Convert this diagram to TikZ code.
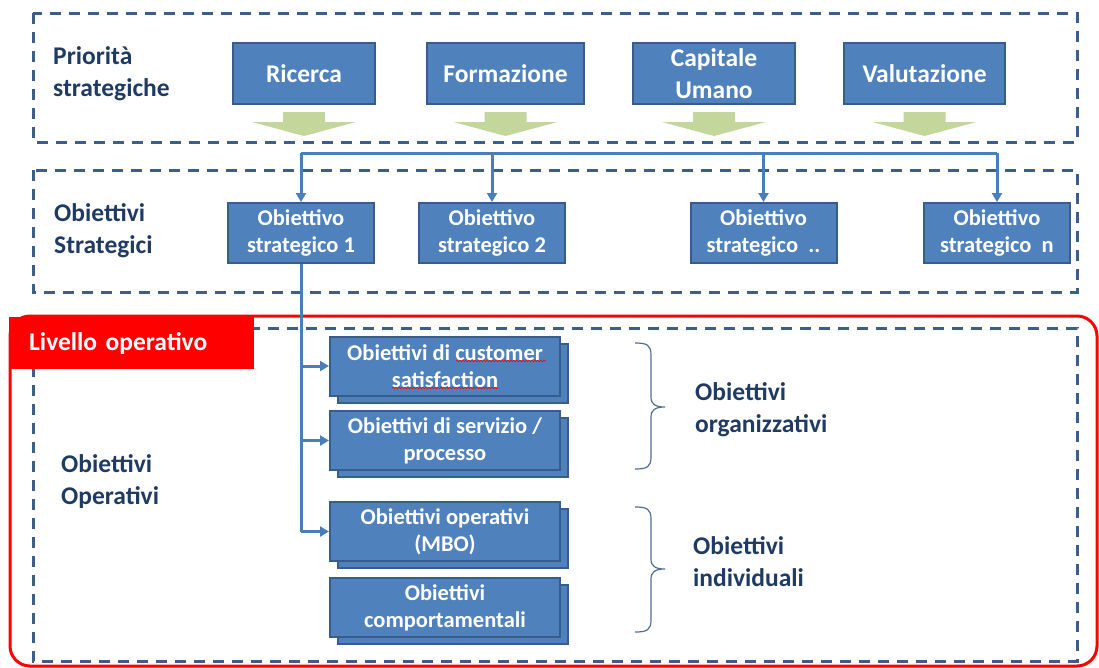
\documentclass[tikz,border=0pt]{standalone}
\usepackage{fontspec}
\setmainfont{Carlito}
\usetikzlibrary{arrows.meta, shadows, decorations.pathmorphing}
\definecolor{boxblue}{RGB}{79,129,189}
\definecolor{boxedge}{RGB}{56,93,138}
\definecolor{dashblue}{RGB}{62,94,138}
\definecolor{labelblue}{RGB}{31,59,100}
\definecolor{linkblue}{RGB}{74,126,187}
\definecolor{arrowgreen}{RGB}{195,214,155}

\begin{document}
\begin{tikzpicture}[x=1pt, y=-1pt,
  bigfont/.style={font=\fontsize{25.5}{32}\selectfont\bfseries},
  smallfont/.style={font=\fontsize{22.5}{27}\selectfont\bfseries},
  dashbox/.style={draw=dashblue, line width=3pt, dash pattern=on 11pt off 8pt},
  topbox/.style={draw=boxedge, fill=boxblue, line width=2pt, text=white, align=center,
    inner sep=2pt, minimum height=61pt, bigfont},
  stratbox/.style={topbox, minimum width=146pt, minimum height=60pt, smallfont},
  opbox/.style={stratbox, minimum width=230pt, minimum height=59pt,
    copy shadow={shadow xshift=8pt, shadow yshift=-7pt, fill=boxblue, draw=boxedge, line width=2pt}},
  lbl/.style={text=labelblue, align=left, anchor=west, inner sep=0pt, bigfont},
  link/.style={draw=linkblue, line width=3pt},
  linkarrow/.style={link, -{Triangle[length=9pt, width=10pt]}},
  bracepath/.style={draw=dashblue!90, line width=1.2pt},
  spell/.style={draw=red, line width=0.6pt, decorate,
    decoration={snake, amplitude=0.8pt, segment length=3pt}}]
  \useasboundingbox (0,0) rectangle (1099,667);

  % frames
  \draw[dashbox] (33,13) rectangle (1077,142);
  \draw[dashbox] (33,170) rectangle (1077,292);
  \draw[dashbox] (33,328) rectangle (1077,661);
  \draw[red, line width=3pt, rounded corners=20pt] (10,316) rectangle (1097,666);
  \node[fill=red, text=white, anchor=north west, inner xsep=20pt, inner ysep=0pt,
    minimum height=52pt, text width=205pt, align=left, bigfont] (livello) at (9,317) {Livello operativo};

  % priorita strategiche
  \node[lbl] (prio) at (53,74) {Priorità\\strategiche};
  \node[topbox, minimum width=142pt] (ric) at (304,73.5) {Ricerca};
  \node[topbox, minimum width=157pt] (form) at (505.5,73.5) {Formazione};
  \node[topbox, minimum width=162pt] (cap) at (714,73.5) {Capitale\\Umano};
  \node[topbox, minimum width=161pt] (val) at (924.5,73.5) {Valutazione};
  \foreach \n in {ric,form,cap,val}
    \fill[arrowgreen] (\n.south) ++(-21,7) -- ++(42,0) -- ++(0,10) -- ++(31,0)
      -- ++(-52,14) -- ++(-52,-14) -- ++(31,0) -- cycle;

  % obiettivi strategici
  \node[lbl] (strat) at (54,231) {Obiettivi\\Strategici};
  \node[stratbox] (os1) at (301,233) {Obiettivo\\strategico 1};
  \node[stratbox] (os2) at (492,233) {Obiettivo\\strategico 2};
  \node[stratbox] (os3) at (763.5,233) {Obiettivo\\strategico~~..};
  \node[stratbox] (osn) at (997,233) {Obiettivo\\strategico~~n};
  \coordinate (bus) at (0,153);
  \draw[link] (os1.north |- bus) -- (osn.north |- bus);
  \foreach \n in {os1,os2,os3,osn}
    \draw[linkarrow] (\n.north |- bus) -- (\n.north);

  % obiettivi operativi
  \node[lbl] (oper) at (61,482) {Obiettivi\\Operativi};
  \node[opbox] (cust) at (445,366) {Obiettivi di customer\\satisfaction};
  \node[opbox] (serv) at (445,440.5) {Obiettivi di servizio /\\processo};
  \node[opbox] (mbo) at (445,531.5) {Obiettivi operativi\\(MBO)};
  \node[opbox] (comp) at (445,607.5) {Obiettivi\\comportamentali};
  \draw[spell] (456,361) -- (546,361);
  \draw[spell] (392,388) -- (498,388);
  \draw[link] (os1.south) -- (os1.south |- mbo.west);
  \foreach \n in {cust,serv,mbo}
    \draw[linkarrow] (os1.south |- \n.west) -- (\n.west);

  % graffe
  \foreach \yt/\ym/\yb in {343/407/469, 507/569/632}
    \draw[bracepath] (635,\yt) .. controls (647,\yt) and (651,\yt+2) .. (651,\yt+12)
      -- (651,\ym-10) .. controls (651,\ym-3) and (655,\ym) .. (665,\ym)
      .. controls (655,\ym) and (651,\ym+3) .. (651,\ym+10)
      -- (651,\yb-12) .. controls (651,\yb-2) and (647,\yb) .. (635,\yb);
  \node[lbl] (orgz) at (695,410) {Obiettivi\\organizzativi};
  \node[lbl] (indiv) at (693,562) {Obiettivi\\individuali};
\end{tikzpicture}
\end{document}
